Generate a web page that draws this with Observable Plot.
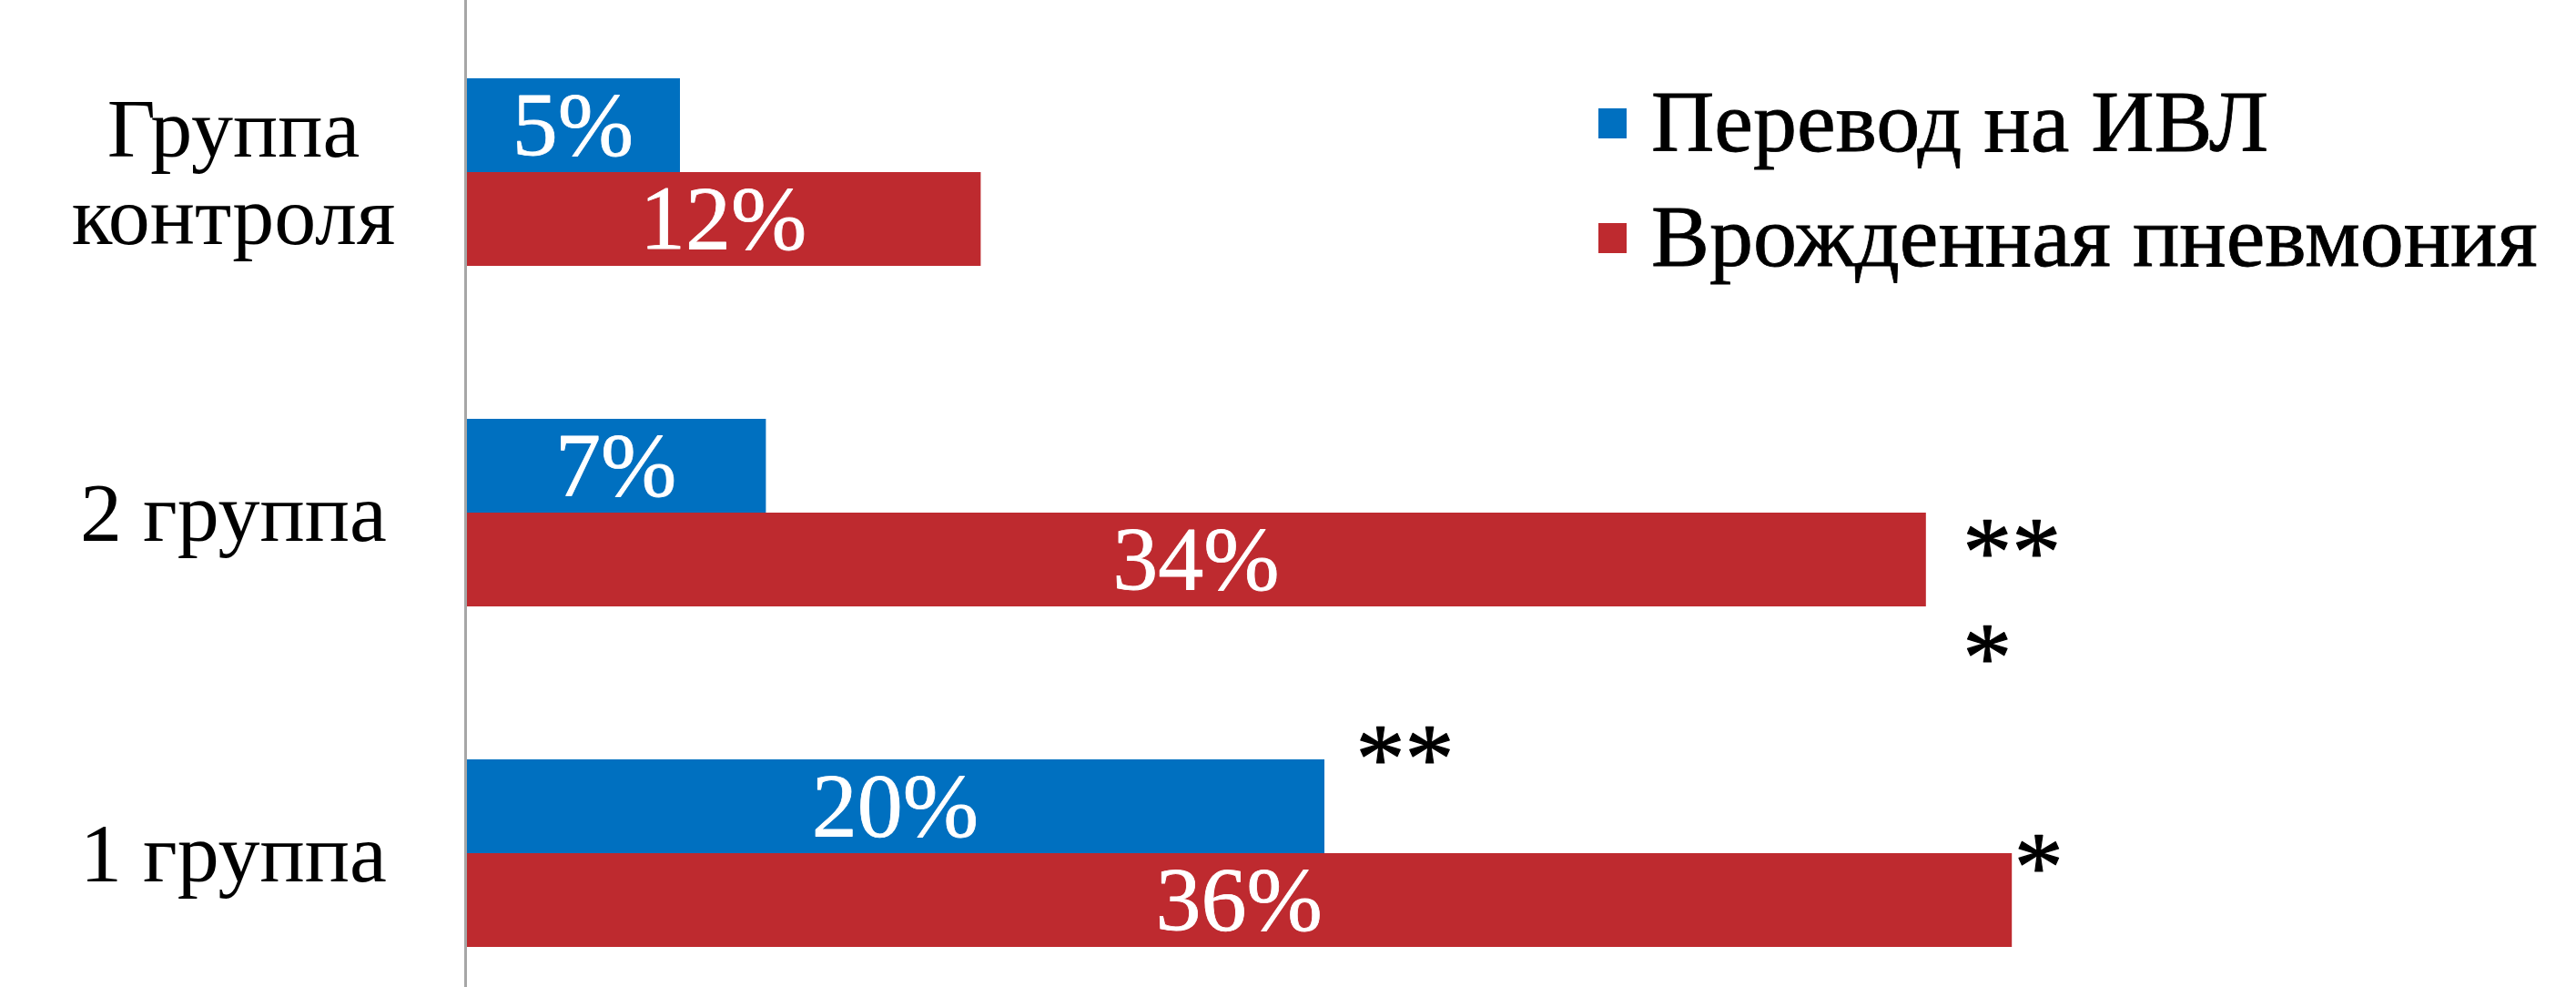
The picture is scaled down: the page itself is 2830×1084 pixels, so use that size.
<!DOCTYPE html>
<html>
<head>
<meta charset="utf-8">
<script src="https://cdn.jsdelivr.net/npm/d3@7"></script>
<script src="https://cdn.jsdelivr.net/npm/@observablehq/plot@0.6"></script>
<style>
  body { margin: 0; background: #fff; }
  #wrap { position: relative; width: 2830px; height: 1084px; font-family: "Liberation Serif", "Times New Roman", serif; }
  .lg-sw { position: absolute; width: 31px; height: 33px; }
  .lg-tx { position: absolute; font-family: "Liberation Serif", "Times New Roman", serif; font-size: 96px; line-height: 1; color: #000; white-space: nowrap; -webkit-text-stroke: 0.8px #000; }
</style>
</head>
<body>
<div id="wrap"></div>
<script>
const groups = ["Группа контроля", "2 группа", "1 группа"];
const groupLabels = ["Группа\nконтроля", "2 группа", "1 группа"];
const series = ["Перевод на ИВЛ", "Врожденная пневмония"];
const ventilation = [5, 7, 20];
const pneumonia = [12, 34, 36];
const colors = ["#0070C0", "#BE2A2F"];

const data = groups.flatMap((g, i) => [
  {group: g, series: series[0], value: ventilation[i]},
  {group: g, series: series[1], value: pneumonia[i]}
]);
const find = (g, s) => data.filter(d => d.group === g && d.series === s);

const serif = "'Liberation Serif', 'Times New Roman', serif";
const starStyle = {fy: "group", y: "series", x: "value", textAnchor: "start", fontSize: 108, fontFamily: serif, fill: "black", stroke: "black", strokeWidth: 1.2};

const chart = Plot.plot({
  width: 2830,
  height: 1084,
  marginLeft: 511,
  marginRight: 431,
  marginTop: 0,
  marginBottom: 0,
  style: {fontFamily: serif, background: "white", overflow: "visible"},
  x: {domain: [0, 40], axis: null},
  y: {domain: series, padding: 0, axis: null},
  fy: {domain: groups, paddingInner: 0.447, paddingOuter: 0.1723, align: 0.659, label: null},
  color: {domain: series, range: colors},
  marks: [
    Plot.barX(data, {fy: "group", y: "series", x: "value", fill: "series"}),
    Plot.text(data, {fy: "group", y: "series", x: d => d.value / 2, text: d => d.value + "%", fontFamily: serif,
      fill: "white", stroke: "white", strokeWidth: 0.8, fontSize: 100}),
    Plot.frame({anchor: "left", facet: "super", stroke: "#a6a6a6", strokeWidth: 3, insetTop: -100, insetBottom: -60}),
    Plot.axisFy({anchor: "left", tickSize: 0, tickPadding: 0, dx: -255, textAnchor: "middle", fontSize: 92, lineHeight: 1.05,
      fontFamily: serif, tickFormat: g => groupLabels[groups.indexOf(g)], label: null, fill: "black", stroke: "black", strokeWidth: 0.8}),
    Plot.text(find("2 группа", series[1]), {...starStyle, text: () => "**", dx: 40, dy: -8}),
    Plot.text(find("2 группа", series[1]), {...starStyle, text: () => "*", dx: 40, dy: 108}),
    Plot.text(find("1 группа", series[0]), {...starStyle, text: () => "**", dx: 34, dy: -52}),
    Plot.text(find("1 группа", series[1]), {...starStyle, text: () => "*", dx: 2, dy: -36})
  ]
});

const wrap = document.getElementById("wrap");
wrap.appendChild(chart);

const legendPos = [{sw: 119, tx: 86}, {sw: 245, tx: 212}];
series.forEach((s, i) => {
  const sw = document.createElement("div");
  sw.className = "lg-sw";
  sw.style.left = "1756px";
  sw.style.top = legendPos[i].sw + "px";
  sw.style.background = colors[i];
  const tx = document.createElement("div");
  tx.className = "lg-tx";
  tx.style.left = "1814px";
  tx.style.top = legendPos[i].tx + "px";
  tx.textContent = s;
  wrap.appendChild(sw);
  wrap.appendChild(tx);
});
</script>
</body>
</html>
